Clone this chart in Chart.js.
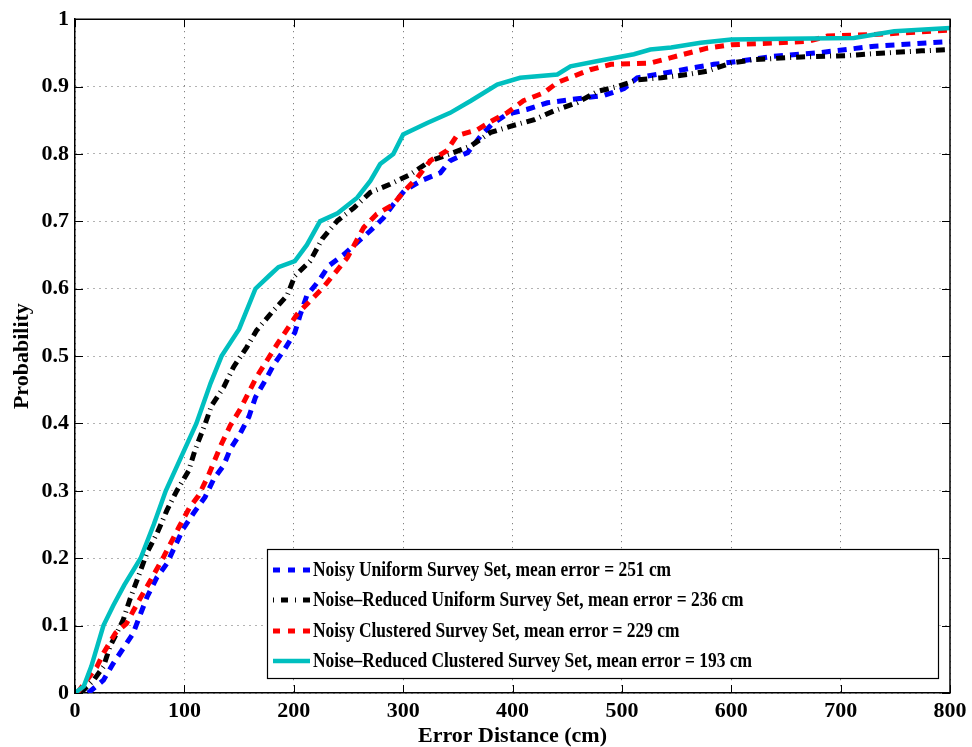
<!DOCTYPE html>
<html>
<head>
<meta charset="utf-8">
<script src="https://cdn.jsdelivr.net/npm/chart.js@4.4.1/dist/chart.umd.min.js"></script>
<style>
  html, body { margin: 0; padding: 0; background: #fff; }
  #wrap { width: 972px; height: 747px; }
</style>
</head>
<body>
<div id="wrap"><canvas id="cdf" width="972" height="747"></canvas></div>
<script>
// Error distance (cm) / probability pairs
const noisyUniformX = [12, 26, 35, 44, 53, 66, 75, 84, 99, 108, 119, 127, 136, 142, 151, 159, 165, 174, 182, 192, 201, 206, 212, 223, 232, 246, 270, 282, 291, 301, 316, 334, 343, 359, 371, 381, 395, 413, 432, 450, 484, 502, 514, 532, 566, 584, 609, 639, 679, 731, 800];
const noisyUniformY = [0, 0.019, 0.044, 0.066, 0.088, 0.143, 0.172, 0.192, 0.244, 0.266, 0.291, 0.318, 0.338, 0.362, 0.385, 0.41, 0.439, 0.464, 0.488, 0.511, 0.535, 0.562, 0.59, 0.612, 0.634, 0.651, 0.686, 0.705, 0.725, 0.745, 0.76, 0.772, 0.79, 0.802, 0.827, 0.844, 0.859, 0.866, 0.876, 0.88, 0.887, 0.897, 0.913, 0.918, 0.928, 0.933, 0.938, 0.945, 0.95, 0.96, 0.967];

const reducedUniformX = [5, 17, 26, 32, 44, 50, 60, 66, 75, 84, 93, 104, 110, 118, 125, 136, 145, 157, 166, 180, 194, 201, 215, 226, 240, 255, 270, 288, 307, 325, 343, 362, 380, 398, 420, 438, 459, 478, 496, 514, 536, 560, 578, 600, 621, 664, 706, 731, 774, 800];
const reducedUniformY = [0, 0.019, 0.039, 0.069, 0.108, 0.138, 0.182, 0.209, 0.237, 0.271, 0.3, 0.33, 0.362, 0.395, 0.427, 0.454, 0.484, 0.513, 0.538, 0.565, 0.59, 0.619, 0.641, 0.674, 0.701, 0.72, 0.743, 0.755, 0.77, 0.79, 0.8, 0.812, 0.832, 0.841, 0.851, 0.864, 0.876, 0.893, 0.9, 0.91, 0.913, 0.918, 0.923, 0.935, 0.94, 0.944, 0.946, 0.949, 0.953, 0.955];

const noisyClusteredX = [2, 20, 26, 37, 47, 57, 69, 81, 95, 105, 113, 122, 134, 142, 151, 166, 185, 203, 227, 249, 264, 276, 291, 301, 313, 325, 340, 349, 368, 381, 395, 410, 429, 441, 471, 490, 526, 545, 578, 600, 670, 688, 740, 800];
const noisyClusteredY = [0, 0.039, 0.059, 0.089, 0.103, 0.133, 0.167, 0.202, 0.246, 0.276, 0.293, 0.323, 0.37, 0.397, 0.421, 0.469, 0.518, 0.562, 0.602, 0.646, 0.691, 0.711, 0.725, 0.745, 0.765, 0.79, 0.805, 0.827, 0.836, 0.849, 0.861, 0.879, 0.891, 0.906, 0.925, 0.933, 0.935, 0.943, 0.957, 0.962, 0.967, 0.975, 0.978, 0.984];

const reducedClusteredX = [0, 8, 15, 26, 35, 45, 60, 72, 83, 97, 111, 124, 134, 150, 165, 178, 186, 201, 212, 224, 240, 258, 270, 279, 291, 300, 322, 343, 362, 386, 407, 441, 453, 478, 511, 526, 545, 572, 600, 650, 712, 749, 800];
const reducedClusteredY = [0, 0.01, 0.04, 0.1, 0.13, 0.16, 0.2, 0.25, 0.3, 0.35, 0.4, 0.46, 0.5, 0.54, 0.6, 0.62, 0.632, 0.641, 0.665, 0.7, 0.712, 0.735, 0.76, 0.785, 0.8, 0.829, 0.846, 0.861, 0.879, 0.903, 0.913, 0.918, 0.93, 0.938, 0.948, 0.955, 0.958, 0.965, 0.97, 0.971, 0.972, 0.982, 0.987];

const seriesLabels = [
  'Noisy Uniform Survey Set, mean error = 251 cm',
  'Noise\u2013Reduced Uniform Survey Set, mean error = 236 cm',
  'Noisy Clustered Survey Set, mean error = 229 cm',
  'Noise\u2013Reduced Clustered Survey Set, mean error = 193 cm'
];

const xTicks = [0, 100, 200, 300, 400, 500, 600, 700, 800];
const yTicks = [0, 0.1, 0.2, 0.3, 0.4, 0.5, 0.6, 0.7, 0.8, 0.9, 1];

const serif = "'Liberation Serif', 'Times New Roman', serif";

function toPoints(xs, ys) {
  return xs.map((x, i) => ({ x: x, y: ys[i] }));
}

// Legend box and the inward tick marks / top-right frame, Matlab style
const matlabFrame = {
  id: 'matlabFrame',
  afterDraw(chart) {
    const ctx = chart.ctx;
    const area = chart.chartArea;
    const xs = chart.scales.x;
    const ys = chart.scales.y;
    ctx.save();
    ctx.strokeStyle = '#000';
    ctx.lineWidth = 1.5;
    ctx.setLineDash([]);
    ctx.beginPath();
    ctx.moveTo(area.left, area.top);
    ctx.lineTo(area.right, area.top);
    ctx.lineTo(area.right, area.bottom);
    ctx.stroke();

    ctx.lineWidth = 1;
    ctx.beginPath();
    xTicks.forEach(v => {
      const px = Math.round(xs.getPixelForValue(v)) + 0.5;
      ctx.moveTo(px, area.bottom); ctx.lineTo(px, area.bottom - 8);
      ctx.moveTo(px, area.top); ctx.lineTo(px, area.top + 8);
    });
    yTicks.forEach(v => {
      const py = Math.round(ys.getPixelForValue(v)) + 0.5;
      ctx.moveTo(area.left, py); ctx.lineTo(area.left + 8, py);
      ctx.moveTo(area.right, py); ctx.lineTo(area.right - 8, py);
    });
    ctx.stroke();

    // legend
    const box = { left: 267, top: 549, right: 938, bottom: 678 };
    ctx.fillStyle = '#fff';
    ctx.fillRect(box.left, box.top, box.right - box.left, box.bottom - box.top);
    ctx.strokeStyle = '#000';
    ctx.lineWidth = 1.2;
    ctx.strokeRect(box.left + 0.5, box.top + 0.5, box.right - box.left, box.bottom - box.top);

    const rows = [570, 600, 631, 661];
    ctx.font = 'bold 21px ' + serif;
    const widest = Math.max(...seriesLabels.map(t => ctx.measureText(t).width));
    const sx = 439 / widest;
    chart.data.datasets.forEach((ds, i) => {
      const y = rows[i];
      ctx.save();
      ctx.strokeStyle = ds.borderColor;
      ctx.lineWidth = ds.borderWidth;
      ctx.lineCap = 'butt';
      ctx.setLineDash(ds.legendDash || []);
      ctx.beginPath();
      ctx.moveTo(273, y);
      ctx.lineTo(310, y);
      ctx.stroke();
      ctx.restore();

      ctx.save();
      ctx.translate(313, y);
      ctx.scale(sx, 1);
      ctx.fillStyle = '#000';
      ctx.textBaseline = 'middle';
      ctx.textAlign = 'left';
      ctx.fillText(ds.label, 0, 1);
      ctx.restore();
    });
    ctx.restore();
  }
};

const ctx = document.getElementById('cdf').getContext('2d');
new Chart(ctx, {
  type: 'line',
  data: {
    datasets: [
      {
        label: seriesLabels[0],
        data: toPoints(noisyUniformX, noisyUniformY),
        borderColor: '#0000ff',
        borderWidth: 5,
        borderDash: [9, 7],
        legendDash: [7, 8],
        order: 3
      },
      {
        label: seriesLabels[1],
        data: toPoints(reducedUniformX, reducedUniformY),
        borderColor: '#000000',
        borderWidth: 5,
        borderDash: [9, 5, 1, 5],
        legendDash: [1, 7, 7, 7],
        order: 2
      },
      {
        label: seriesLabels[2],
        data: toPoints(noisyClusteredX, noisyClusteredY),
        borderColor: '#ff0000',
        borderWidth: 5,
        borderDash: [9, 7],
        legendDash: [7, 8],
        order: 1
      },
      {
        label: seriesLabels[3],
        data: toPoints(reducedClusteredX, reducedClusteredY),
        borderColor: '#00bfbf',
        borderWidth: 4.5,
        order: 0
      }
    ]
  },
  options: {
    responsive: false,
    animation: false,
    devicePixelRatio: 1,
    layout: { padding: { top: 16, right: 22, left: 0, bottom: 0 } },
    elements: {
      point: { radius: 0 },
      line: { tension: 0, fill: false, borderCapStyle: 'butt', borderJoinStyle: 'miter' }
    },
    plugins: {
      legend: { display: false },
      tooltip: { enabled: false }
    },
    scales: {
      x: {
        type: 'linear',
        min: 0,
        max: 800,
        afterFit: s => { s.height = 54; },
        afterBuildTicks: s => { s.ticks = xTicks.map(v => ({ value: v })); },
        ticks: {
          color: '#000',
          padding: 5,
          maxRotation: 0,
          font: { family: serif, size: 22, weight: 'bold' }
        },
        grid: { color: 'rgba(0,0,0,0.6)', lineWidth: 1, drawTicks: false },
        border: { display: true, color: '#000', width: 1.5, dash: [1, 5] },
        title: {
          display: true,
          text: 'Error Distance (cm)',
          color: '#000',
          padding: { top: 0, bottom: 0 },
          font: { family: serif, size: 22, weight: 'bold', lineHeight: 1 }
        }
      },
      y: {
        min: 0,
        max: 1,
        afterFit: s => { s.width = 75; },
        afterBuildTicks: s => { s.ticks = yTicks.map(v => ({ value: v })); },
        ticks: {
          color: '#000',
          padding: 6,
          font: { family: serif, size: 22, weight: 'bold' },
          callback: v => (v === 0 || v === 1) ? String(v) : v.toFixed(1)
        },
        grid: { color: 'rgba(0,0,0,0.6)', lineWidth: 1, drawTicks: false },
        border: { display: true, color: '#000', width: 1.5, dash: [1, 5] },
        title: {
          display: true,
          text: 'Probability',
          color: '#000',
          padding: { top: 11, bottom: 0 },
          font: { family: serif, size: 22, weight: 'bold', lineHeight: 1 }
        }
      }
    }
  },
  plugins: [matlabFrame]
});
</script>
</body>
</html>
